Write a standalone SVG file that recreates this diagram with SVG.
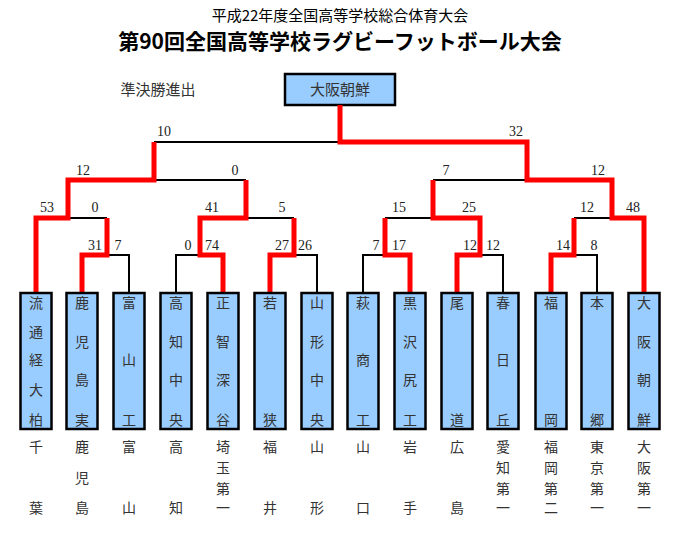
<svg xmlns="http://www.w3.org/2000/svg" width="680" height="540" viewBox="0 0 680 540">
<style>
.b{fill:#99ccff;stroke:#000;stroke-width:2.5}
.t{font-family:"Noto Sans CJK JP",sans-serif;font-size:14px;text-anchor:middle;fill:#333}
.s{font-family:"Liberation Serif",serif;font-size:14px;text-anchor:middle;fill:#222}
.k{fill:none;stroke:#000;stroke-width:2}
.r{fill:none;stroke:#f00;stroke-width:5;stroke-linejoin:miter}
</style>
<rect width="680" height="540" fill="#fff"/>
<text x="340" y="21" class="t" style="font-size:15px;fill:#000">平成22年度全国高等学校総合体育大会</text>
<text x="340" y="49" class="t" style="font-size:21px;font-weight:bold;fill:#000">第90回全国高等学校ラグビーフットボール大会</text>
<text x="158" y="95" class="t" style="font-size:15px">準決勝進出</text>
<g id="champion"><rect x="285" y="74" width="110" height="31" class="b"/><text x="340" y="95" class="t" style="font-size:15px">大阪朝鮮</text></g>
<g id="connectors">
<path class="k" d="M129,293V255H107 M176,293V255H200 M317,293V255H294 M363,293V255H385 M503,293V255H480 M597,293V255H574 M107,218H68 M246,218H294 M385,218H433 M574,218H612 M154,180H246 M433,180H527 M154,142H340"/>
<path class="r" d="M36,293V218H68V180H154V142"/>
<path class="r" d="M82,293V255H107V218"/>
<path class="r" d="M223,293V255H200V218H246V180"/>
<path class="r" d="M270,293V255H294V218"/>
<path class="r" d="M410,293V255H385V218"/>
<path class="r" d="M457,293V255H480V218H433V180"/>
<path class="r" d="M551,293V255H574V218"/>
<path class="r" d="M644,293V218H612V180H527V142H340V105"/>
</g>
<g id="scores" class="s">
<text x="164" y="136">10</text><text x="516" y="136">32</text>
<text x="83" y="175">12</text><text x="235" y="175">0</text><text x="446" y="175">7</text><text x="598" y="175">12</text>
<text x="47" y="212">53</text><text x="95" y="212">0</text><text x="212" y="212">41</text><text x="282" y="212">5</text><text x="399" y="212">15</text><text x="469" y="212">25</text><text x="587" y="212">12</text><text x="633" y="212">48</text>
<text x="95" y="250">31</text><text x="118" y="250">7</text><text x="188" y="250">0</text><text x="212" y="250">74</text><text x="282" y="250">27</text><text x="305" y="250">26</text><text x="376" y="250">7</text><text x="399" y="250">17</text><text x="470" y="250">12</text><text x="493" y="250">12</text><text x="563" y="250">14</text><text x="594" y="250">8</text>
</g>
<g id="n1"><rect x="20.5" y="293" width="31" height="136" class="b"/><text class="t" x="36"><tspan x="36" y="308">流</tspan><tspan x="36" y="337">通</tspan><tspan x="36" y="365">経</tspan><tspan x="36" y="395">大</tspan><tspan x="36" y="425">柏</tspan></text><text class="t" x="36"><tspan x="36" y="452">千</tspan><tspan x="36" y="513">葉</tspan></text></g>
<g id="n2"><rect x="66.5" y="293" width="31" height="136" class="b"/><text class="t"><tspan x="82" y="308">鹿</tspan><tspan x="82" y="347">児</tspan><tspan x="82" y="385">島</tspan><tspan x="82" y="425">実</tspan></text><text class="t"><tspan x="82" y="452">鹿</tspan><tspan x="82" y="483">児</tspan><tspan x="82" y="513">島</tspan></text></g>
<g id="n3"><rect x="113.5" y="293" width="31" height="136" class="b"/><text class="t"><tspan x="129" y="308">富</tspan><tspan x="129" y="365">山</tspan><tspan x="129" y="425">工</tspan></text><text class="t"><tspan x="129" y="452">富</tspan><tspan x="129" y="513">山</tspan></text></g>
<g id="n4"><rect x="160.5" y="293" width="31" height="136" class="b"/><text class="t"><tspan x="176" y="308">高</tspan><tspan x="176" y="347">知</tspan><tspan x="176" y="385">中</tspan><tspan x="176" y="425">央</tspan></text><text class="t"><tspan x="176" y="452">高</tspan><tspan x="176" y="513">知</tspan></text></g>
<g id="n5"><rect x="207.5" y="293" width="31" height="136" class="b"/><text class="t"><tspan x="223" y="308">正</tspan><tspan x="223" y="347">智</tspan><tspan x="223" y="385">深</tspan><tspan x="223" y="425">谷</tspan></text><text class="t"><tspan x="223" y="452">埼</tspan><tspan x="223" y="473">玉</tspan><tspan x="223" y="494">第</tspan><tspan x="223" y="513">一</tspan></text></g>
<g id="n6"><rect x="254.5" y="293" width="31" height="136" class="b"/><text class="t"><tspan x="270" y="308">若</tspan><tspan x="270" y="425">狭</tspan></text><text class="t"><tspan x="270" y="452">福</tspan><tspan x="270" y="513">井</tspan></text></g>
<g id="n7"><rect x="301.5" y="293" width="31" height="136" class="b"/><text class="t"><tspan x="317" y="308">山</tspan><tspan x="317" y="347">形</tspan><tspan x="317" y="385">中</tspan><tspan x="317" y="425">央</tspan></text><text class="t"><tspan x="317" y="452">山</tspan><tspan x="317" y="513">形</tspan></text></g>
<g id="n8"><rect x="347.5" y="293" width="31" height="136" class="b"/><text class="t"><tspan x="363" y="308">萩</tspan><tspan x="363" y="365">商</tspan><tspan x="363" y="425">工</tspan></text><text class="t"><tspan x="363" y="452">山</tspan><tspan x="363" y="513">口</tspan></text></g>
<g id="n9"><rect x="394.5" y="293" width="31" height="136" class="b"/><text class="t"><tspan x="410" y="308">黒</tspan><tspan x="410" y="347">沢</tspan><tspan x="410" y="385">尻</tspan><tspan x="410" y="425">工</tspan></text><text class="t"><tspan x="410" y="452">岩</tspan><tspan x="410" y="513">手</tspan></text></g>
<g id="n10"><rect x="441.5" y="293" width="31" height="136" class="b"/><text class="t"><tspan x="457" y="308">尾</tspan><tspan x="457" y="425">道</tspan></text><text class="t"><tspan x="457" y="452">広</tspan><tspan x="457" y="513">島</tspan></text></g>
<g id="n11"><rect x="487.5" y="293" width="31" height="136" class="b"/><text class="t"><tspan x="503" y="308">春</tspan><tspan x="503" y="365">日</tspan><tspan x="503" y="425">丘</tspan></text><text class="t"><tspan x="503" y="452">愛</tspan><tspan x="503" y="473">知</tspan><tspan x="503" y="494">第</tspan><tspan x="503" y="513">一</tspan></text></g>
<g id="n12"><rect x="535.5" y="293" width="31" height="136" class="b"/><text class="t"><tspan x="551" y="308">福</tspan><tspan x="551" y="425">岡</tspan></text><text class="t"><tspan x="551" y="452">福</tspan><tspan x="551" y="473">岡</tspan><tspan x="551" y="494">第</tspan><tspan x="551" y="513">二</tspan></text></g>
<g id="n13"><rect x="581.5" y="293" width="31" height="136" class="b"/><text class="t"><tspan x="597" y="308">本</tspan><tspan x="597" y="425">郷</tspan></text><text class="t"><tspan x="597" y="452">東</tspan><tspan x="597" y="473">京</tspan><tspan x="597" y="494">第</tspan><tspan x="597" y="513">一</tspan></text></g>
<g id="n14"><rect x="628.5" y="293" width="31" height="136" class="b"/><text class="t"><tspan x="644" y="308">大</tspan><tspan x="644" y="347">阪</tspan><tspan x="644" y="385">朝</tspan><tspan x="644" y="425">鮮</tspan></text><text class="t"><tspan x="644" y="452">大</tspan><tspan x="644" y="473">阪</tspan><tspan x="644" y="494">第</tspan><tspan x="644" y="513">一</tspan></text></g>
</svg>
